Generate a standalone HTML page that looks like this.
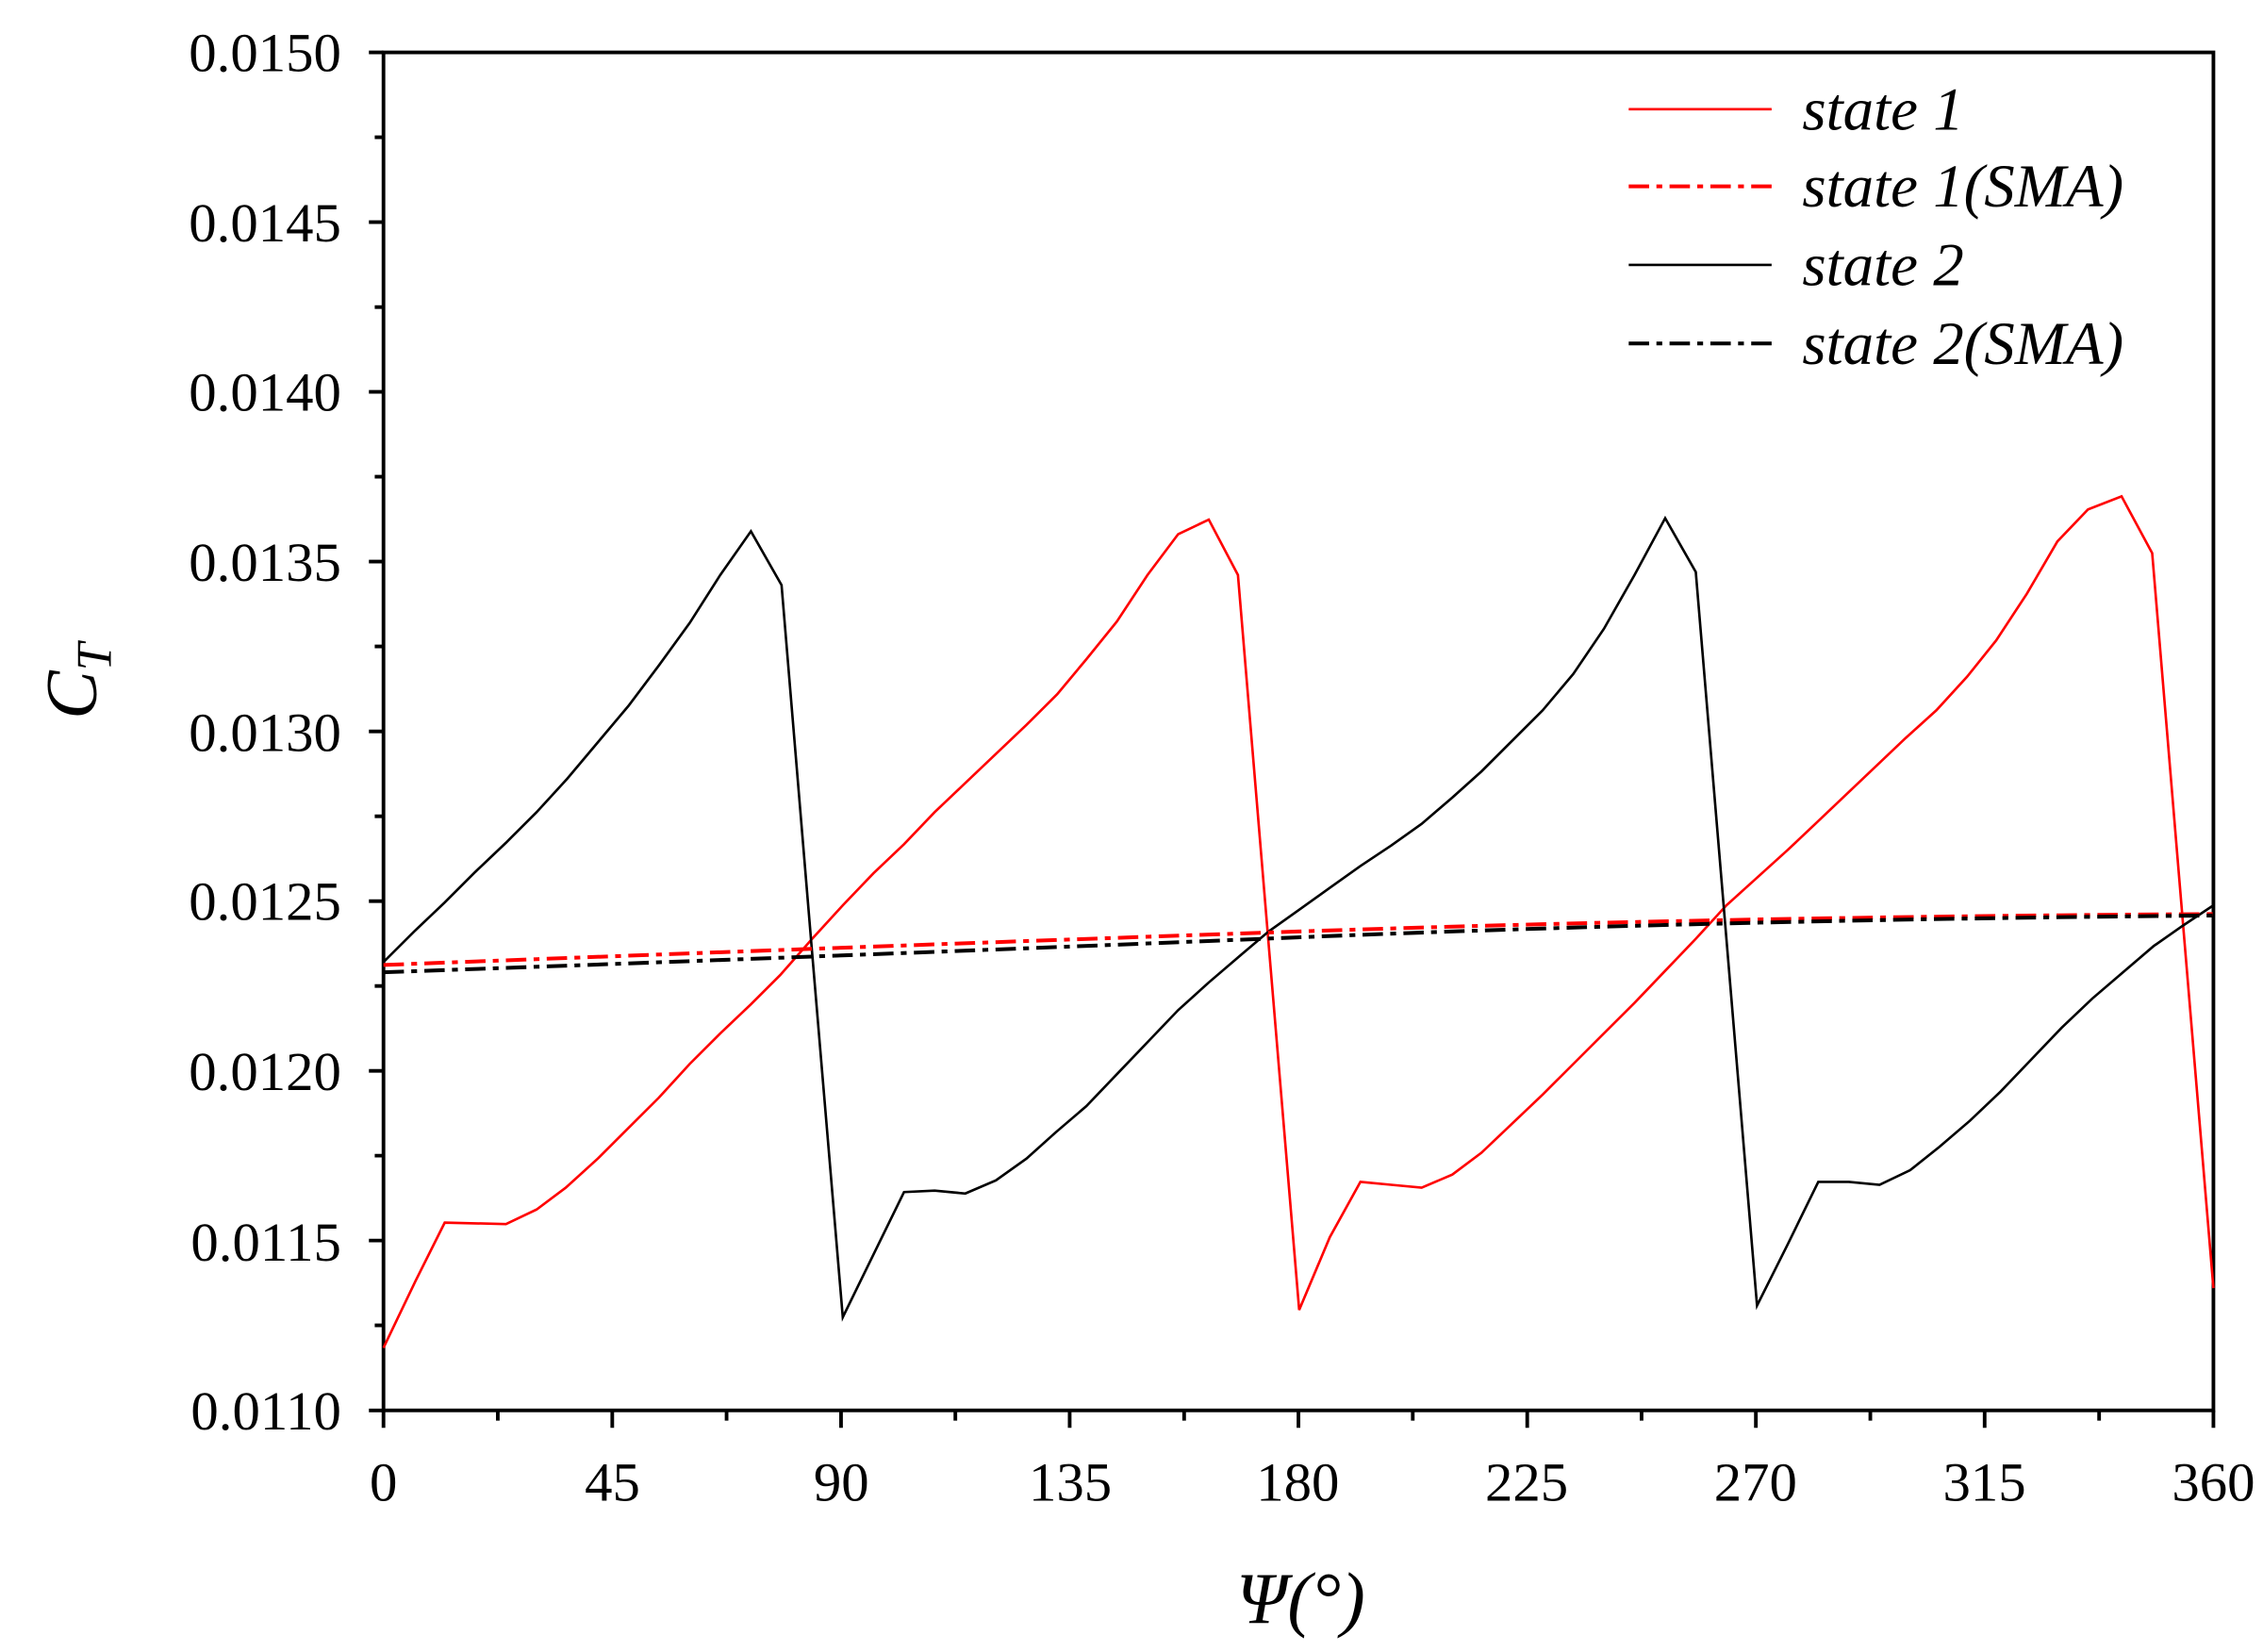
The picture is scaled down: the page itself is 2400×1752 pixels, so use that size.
<!DOCTYPE html>
<html><head><style>html,body{margin:0;padding:0;background:#fff}svg{display:block}</style></head>
<body>
<svg width="2400" height="1752" viewBox="0 0 1552 1135" preserveAspectRatio="none" xmlns="http://www.w3.org/2000/svg" font-family="Liberation Serif, serif">
<rect width="1552" height="1135" fill="#fff"/>
<g stroke="#000" stroke-width="2.5" fill="none">
<rect x="263" y="36" width="1255" height="933"/>
<path d="M263 36h-10M263 94.3h-6M263 152.6h-10M263 211h-6M263 269.2h-10M263 327.5h-6M263 385.8h-10M263 444.1h-6M263 502.5h-10M263 560.8h-6M263 619.1h-10M263 677.4h-6M263 735.7h-10M263 794h-6M263 852.3h-10M263 910.6h-6M263 969h-10"/>
<path d="M263 969v12M341.4 969v7M419.9 969v12M498.3 969v7M576.8 969v12M655.2 969v7M733.6 969v12M812.1 969v7M890.5 969v12M968.9 969v7M1047.4 969v12M1125.8 969v7M1204.2 969v12M1282.7 969v7M1361.1 969v12M1439.6 969v7M1518 969v12"/>
</g>
<g font-size="38" text-anchor="end">
<text x="234" y="49">0.0150</text><text x="234" y="166">0.0145</text><text x="234" y="282">0.0140</text><text x="234" y="399">0.0135</text><text x="234" y="516">0.0130</text><text x="234" y="632">0.0125</text><text x="234" y="749">0.0120</text><text x="234" y="866">0.0115</text><text x="234" y="982">0.0110</text>
</g>
<g font-size="38" text-anchor="middle">
<text x="263" y="1031">0</text><text x="420" y="1031">45</text><text x="577" y="1031">90</text><text x="734" y="1031">135</text><text x="890" y="1031">180</text><text x="1047" y="1031">225</text><text x="1204" y="1031">270</text><text x="1361" y="1031">315</text><text x="1518" y="1031">360</text>
</g>
<text x="892" y="1115" font-size="50" font-style="italic" text-anchor="middle">Ψ(°)</text>
<g transform="translate(66,468) rotate(-90)"><text font-size="50" font-style="italic" text-anchor="middle">C<tspan font-size="34" dy="10">T</tspan></text></g>
<g fill="none" stroke-width="1.7">
<polyline stroke="#ff0000" points="263,926 285,880 305,840 347,841 368,831 388,816 410,796 430,776 452,754 473,731 494,710 515,690 535,670 557,645 578,622 599,600 620,580 641,558 662,538 683,518 704,498 725,477 745,453 766,427 787,395 808,367 829,357 849,395 870,648 891,900 912,850 933,812 954,814 975,816 996,807 1016,792 1037,772 1058,752 1079,731 1100,710 1121,689 1142,667 1163,645 1184,622 1205,603 1226,584 1245,566 1266,546 1286,527 1307,507 1328,488 1349,465 1369,440 1390,408 1411,372 1432,350 1455,341 1476,380 1497,633 1518,885"/>
<polyline stroke="#000" points="263,661 284,640 305,620 326,599 347,579 368,558 389,535 410,510 431,485 452,457 473,428 494,395 515,365 536,402 557,655 578,905 599,862 620,819 641,818 662,820 683,811 704,796 724,778 745,760 766,738 787,716 808,694 829,675 850,657 870,640 891,625 912,610 933,595 954,581 975,566 996,548 1016,530 1037,509 1058,488 1079,463 1100,432 1121,395 1142,356 1163,393 1184,645 1205,897 1226,855 1247,812 1268,812 1289,814 1310,804 1330,788 1351,770 1372,750 1393,728 1414,706 1435,686 1456,668 1477,650 1497,636 1518,622"/>
<path stroke="#ff0000" stroke-width="2.6" stroke-dasharray="14,5,4,5" d="M263 663 Q600 650 890 640 T1518 628"/>
<path stroke="#000" stroke-width="2.6" stroke-dasharray="14,5,4,5" d="M263 668 Q600 656 890 644 T1518 629"/>
<line x1="1117" y1="75" x2="1215" y2="75" stroke="#ff0000"/>
<line x1="1117" y1="128" x2="1215" y2="128" stroke="#ff0000" stroke-width="2.6" stroke-dasharray="14,5,4,5"/>
<line x1="1117" y1="182" x2="1215" y2="182" stroke="#000"/>
<line x1="1117" y1="236" x2="1215" y2="236" stroke="#000" stroke-width="2.6" stroke-dasharray="14,5,4,5"/>
</g>
<g font-size="42" font-style="italic">
<text x="1236" y="89">state 1</text><text x="1236" y="142">state 1(SMA)</text><text x="1236" y="196">state 2</text><text x="1236" y="250">state 2(SMA)</text>
</g>
</svg>
</body></html>
